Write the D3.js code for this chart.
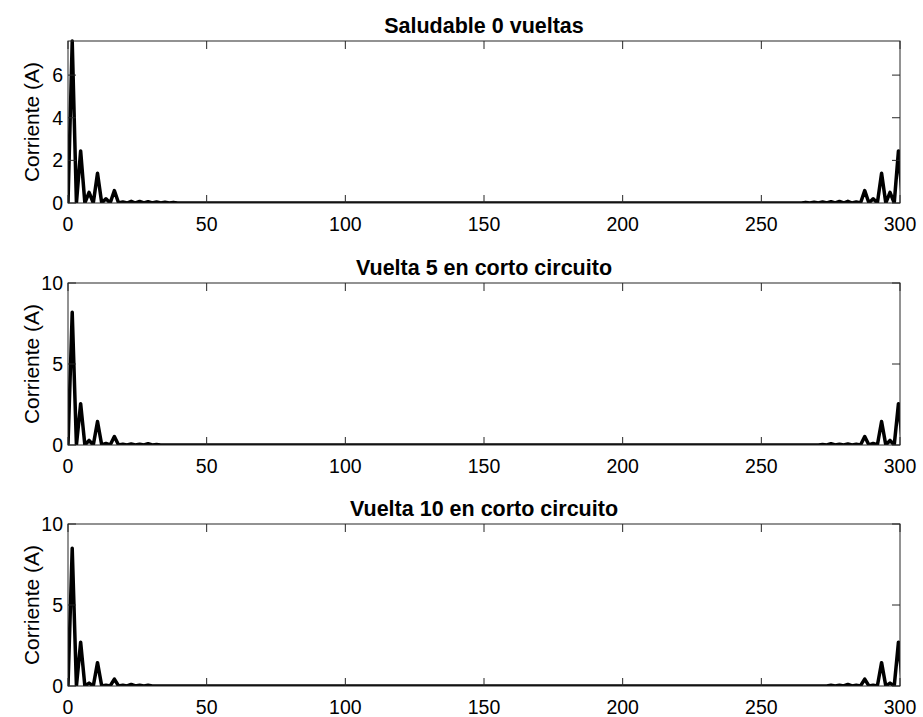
<!DOCTYPE html>
<html>
<head>
<meta charset="utf-8">
<script src="https://cdn.jsdelivr.net/npm/d3@7"></script>
<style>
  html, body { margin: 0; padding: 0; background: #fff; }
  svg { display: block; }
  text { font-family: "Liberation Sans", Arial, Helvetica, sans-serif; fill: #000; }
</style>
</head>
<body>
<svg id="chart" width="923" height="717"></svg>
<script>
// Spectrum: 200 FFT bins, bin spacing in the x units of the axis
const binCount = 200;
const binWidth = 1.52;

// Panel titles
const titles = ["Saludable 0 vueltas", "Vuelta 5 en corto circuito", "Vuelta 10 en corto circuito"];

// Non-zero bins of each spectrum as [bin, amplitude (A)]; all other bins are 0
const saludablePeaks = [
  [1, 7.6], [3, 2.44], [5, 0.5], [7, 1.4], [9, 0.2], [11, 0.58], [13, 0.05], [15, 0.08],
  [17, 0.07], [19, 0.06], [21, 0.05], [23, 0.04], [25, 0.03],
  [175, 0.03], [177, 0.04], [179, 0.05], [181, 0.06], [183, 0.07], [185, 0.08], [187, 0.05],
  [189, 0.58], [191, 0.2], [193, 1.4], [195, 0.5], [197, 2.44], [199, 7.6]
];
const vuelta5Peaks = [
  [1, 8.19], [3, 2.55], [5, 0.28], [7, 1.45], [9, 0.1], [11, 0.52], [13, 0.04], [15, 0.06],
  [17, 0.05], [19, 0.08], [21, 0.03],
  [179, 0.03], [181, 0.08], [183, 0.05], [185, 0.06], [187, 0.04],
  [189, 0.52], [191, 0.1], [193, 1.45], [195, 0.28], [197, 2.55], [199, 8.19]
];
const vuelta10Peaks = [
  [1, 8.5], [3, 2.7], [5, 0.18], [7, 1.44], [9, 0.05], [11, 0.43], [13, 0.04], [15, 0.1],
  [17, 0.05], [19, 0.04],
  [181, 0.04], [183, 0.05], [185, 0.1], [187, 0.04],
  [189, 0.43], [191, 0.05], [193, 1.44], [195, 0.18], [197, 2.7], [199, 8.5]
];

// Axis limits and tick values
const xDomain = [0, 300];
const xTicks = [0, 50, 100, 150, 200, 250, 300];
const yDomains = [[0, 7.6], [0, 10], [0, 10]];
const yTickSets = [[0, 2, 4, 6], [0, 5, 10], [0, 5, 10]];

const panels = [saludablePeaks, vuelta5Peaks, vuelta10Peaks];

// Expand a sparse peak list into the full bin series
function toSeries(peaks) {
  const amp = new Array(binCount).fill(0);
  peaks.forEach(([b, a]) => { amp[b] = a; });
  return amp.map((a, i) => ({ f: i * binWidth, a }));
}

const svg = d3.select("#chart");
const left = 68, right = 900;
const tops = [41, 283, 524];
const panelHeight = 162;
const tickLen = 8;
const fontTick = 19.5;

const x = d3.scaleLinear().domain(xDomain).range([left, right]);

panels.forEach((peaks, i) => {
  const top = tops[i], bottom = top + panelHeight;
  const y = d3.scaleLinear().domain(yDomains[i]).range([bottom, top]);
  const g = svg.append("g");

  const clipId = "clip" + i;
  svg.append("clipPath").attr("id", clipId)
    .append("rect").attr("x", left).attr("y", top - 2)
    .attr("width", right - left).attr("height", panelHeight + 2);

  // spectrum trace
  const line = d3.line().x(d => x(d.f)).y(d => y(d.a));
  g.append("path")
    .datum(toSeries(peaks))
    .attr("clip-path", `url(#${clipId})`)
    .attr("d", line)
    .attr("fill", "none")
    .attr("stroke", "#000")
    .attr("stroke-width", 3.5)
    .attr("stroke-linejoin", "round")
    .attr("stroke-linecap", "round");

  // axes box with inward ticks on all four sides
  const ax = g.append("g").attr("stroke", "#262626").attr("stroke-width", 1).attr("fill", "none");
  ax.append("rect").attr("x", left).attr("y", top).attr("width", right - left).attr("height", panelHeight);
  xTicks.forEach(t => {
    const px = x(t);
    ax.append("line").attr("x1", px).attr("x2", px).attr("y1", bottom).attr("y2", bottom - tickLen);
    ax.append("line").attr("x1", px).attr("x2", px).attr("y1", top).attr("y2", top + tickLen);
  });
  yTickSets[i].forEach(t => {
    const py = y(t);
    ax.append("line").attr("x1", left).attr("x2", left + tickLen).attr("y1", py).attr("y2", py);
    ax.append("line").attr("x1", right).attr("x2", right - tickLen).attr("y1", py).attr("y2", py);
  });

  // tick labels
  g.selectAll(".xl").data(xTicks).enter().append("text")
    .attr("x", d => x(d)).attr("y", bottom + 28)
    .attr("text-anchor", "middle").attr("font-size", fontTick)
    .text(d => d);
  g.selectAll(".yl").data(yTickSets[i]).enter().append("text")
    .attr("x", left - 5).attr("y", d => y(d)).attr("dy", "0.36em")
    .attr("text-anchor", "end").attr("font-size", fontTick)
    .text(d => d);

  // y label
  g.append("text")
    .attr("transform", `translate(39,${(top + bottom) / 2}) rotate(-90)`)
    .attr("text-anchor", "middle").attr("font-size", 21)
    .text("Corriente (A)");

  // title
  g.append("text")
    .attr("x", (left + right) / 2).attr("y", top - 8)
    .attr("text-anchor", "middle").attr("font-size", 21.5).attr("font-weight", "bold")
    .text(titles[i]);
});
</script>
</body>
</html>
